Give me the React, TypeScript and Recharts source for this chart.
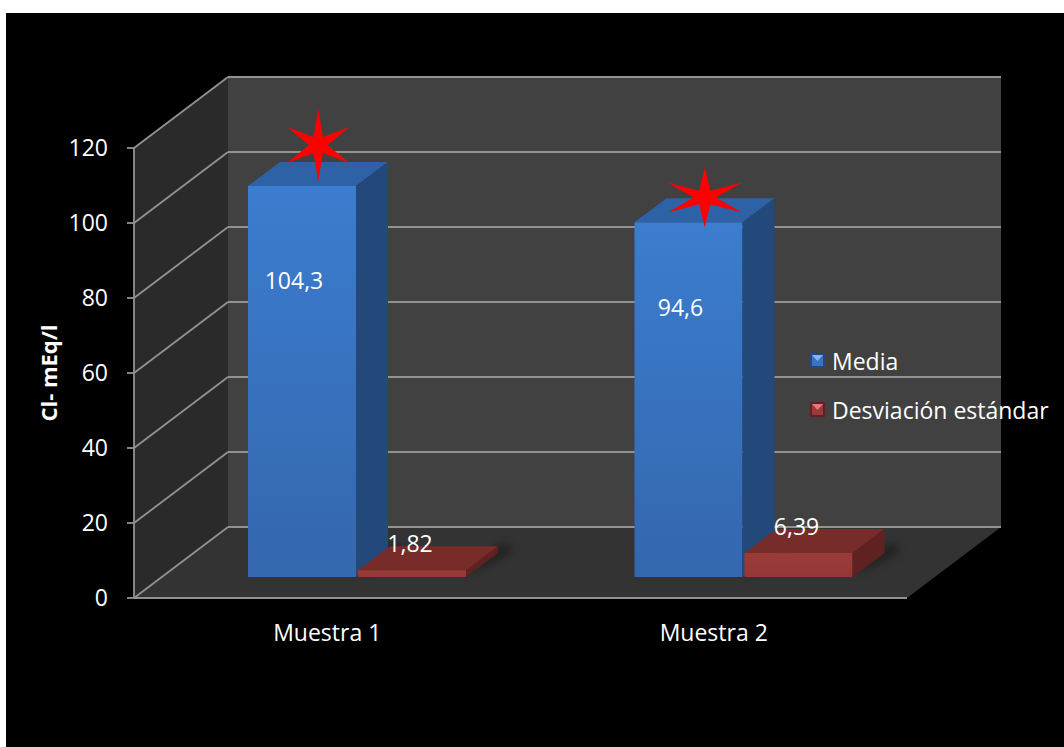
import { BarChart, Bar, XAxis, YAxis, ReferenceArea, ReferenceDot, LabelList, Legend } from 'recharts'

const categories = ['Muestra 1', 'Muestra 2']
const media = [104.3, 94.6]
const desviacion = [1.82, 6.39]
// red star markers above the "Media" bars (y in axis units)
const marcas = [112, 98]
const yTicks = [0, 20, 40, 60, 80, 100, 120]

const data = categories.map((name, i) => ({ name, media: media[i], desviacion: desviacion[i] }))

const FONT = "'Open Sans', sans-serif"
const FS = 23
const GRID = '#929292'
const BAR_SIZE = 108
const BAR_GAP = 2
const DEPTH = { dx: 94, dy: -71 } // walls / floor depth
const SHIFT = { dx: 30, dy: -21 } // bars sit inside the floor
const BOX = { dx: 32, dy: -24 } // depth of each bar
const STAR_SIZE = [{ rx: 36, ry: 36 }, { rx: 43, ry: 30 }]

const COLORS = {
    media: { front: 'url(#mediaFront)', side: '#23487a', top: '#2e62a6' },
    desviacion: { front: 'url(#desvFront)', side: '#5f2220', top: '#782c2a' },
}

const fmt = (v: number) => String(v).replace('.', ',')

function Walls(props: any) {
    const { x, y, width, height } = props
    const L = x, R = x + width, T = y, B = y + height
    const { dx, dy } = DEPTH
    const yOf = (v: number) => B - (v / 120) * height
    return (
        <g>
            <polygon points={`${L + dx},${T + dy} ${R + dx},${T + dy} ${R + dx},${B + dy} ${L + dx},${B + dy}`} fill="#414141" />
            <polygon points={`${L},${T} ${L + dx},${T + dy} ${L + dx},${B + dy} ${L},${B}`} fill="#2a2a2a" />
            <polygon points={`${L},${B} ${R},${B} ${R + dx},${B + dy} ${L + dx},${B + dy}`} fill="#333333" />
            {yTicks.map(t => {
                const yy = yOf(t)
                return (
                    <g key={t}>
                        <line x1={L} y1={yy} x2={L + dx} y2={yy + dy} stroke={GRID} strokeWidth={1.8} />
                        <line x1={L + dx} y1={yy + dy} x2={R + dx} y2={yy + dy} stroke={GRID} strokeWidth={1.8} />
                    </g>
                )
            })}
        </g>
    )
}

function makeBox(c: { front: string; side: string; top: string }) {
    return (p: any) => {
        const { x, y, width: w, height: h } = p
        if (h == null || isNaN(h)) return <g />
        const X = x + SHIFT.dx, Y = y + SHIFT.dy
        const { dx, dy } = BOX
        return (
            <g>
                <polygon
                    points={`${X + w},${Y + h} ${X + w + dx + 14},${Y + h + dy} ${X + w + dx + 14},${Y + h + dy - 8} ${X + w + dx},${Y + h + dy - 8}`}
                    fill="#000" opacity={0.35} filter="url(#soft)" />
                <rect x={X} y={Y} width={w} height={h} fill={c.front} />
                <polygon points={`${X},${Y} ${X + w},${Y} ${X + w + dx},${Y + dy} ${X + dx},${Y + dy}`} fill={c.top} />
                <polygon points={`${X + w},${Y} ${X + w + dx},${Y + dy} ${X + w + dx},${Y + h + dy} ${X + w},${Y + h}`} fill={c.side} />
            </g>
        )
    }
}

function Star({ cx, cy, rx, ry }: { cx: number; cy: number; rx: number; ry: number }) {
    const pts: string[] = []
    for (let k = 0; k < 12; k++) {
        const a = (-90 + k * 30) * Math.PI / 180
        const f = k % 2 === 0 ? 1 : 0.26
        pts.push(`${cx + Math.cos(a) * rx * f},${cy + Math.sin(a) * ry * f}`)
    }
    return <polygon points={pts.join(' ')} fill="#ff0000" />
}

function MediaLabel(p: any) {
    const { x, y, width, height, value } = p
    return (
        <text x={x + SHIFT.dx + width / 2 - 8} y={y + SHIFT.dy + 0.24 * height} textAnchor="middle"
            dominantBaseline="central" fill="#fff" fontSize={FS} fontFamily={FONT}>{fmt(value)}</text>
    )
}

function DesvLabel(p: any) {
    const { x, y, width, value } = p
    return (
        <text x={x + SHIFT.dx + width / 2 - 2} y={y + SHIFT.dy - 27} textAnchor="middle"
            dominantBaseline="central" fill="#fff" fontSize={FS} fontFamily={FONT}>{fmt(value)}</text>
    )
}

function YLabel(p: any) {
    const vb = p.viewBox
    const cx = vb.x + 48, cy = vb.y + vb.height / 2
    return (
        <text x={cx} y={cy} transform={`rotate(-90 ${cx} ${cy})`} textAnchor="middle" dominantBaseline="central"
            fill="#fff" fontSize={22} fontWeight={700} fontFamily={FONT}>Cl- mEq/l</text>
    )
}

function LegendIcon({ light, mid, dark }: { light: string; mid: string; dark: string }) {
    return (
        <svg width={15} height={15} style={{ marginRight: 7, flex: 'none' }}>
            <rect x={0} y={0} width={15} height={15} fill={dark} />
            <rect x={2} y={2} width={11} height={11} fill={mid} />
            <polygon points="2,2 13,2 7.5,8" fill={light} />
        </svg>
    )
}

function LegendBox() {
    const items = [
        { label: 'Media', icon: { light: '#7fb6f2', mid: '#3a74c2', dark: '#23487a' } },
        { label: 'Desviación estándar', icon: { light: '#e07a78', mid: '#9a3a38', dark: '#5f2220' } },
    ]
    return (
        <div style={{ fontFamily: FONT, fontSize: FS, color: '#fff' }}>
            {items.map(it => (
                <div key={it.label} style={{ display: 'flex', alignItems: 'center', height: 49, whiteSpace: 'nowrap' }}>
                    <LegendIcon {...it.icon} />
                    <span>{it.label}</span>
                </div>
            ))}
        </div>
    )
}

export default function App() {
    return (
        <div style={{ position: 'absolute', left: 0, top: 0, width: 1064, height: 747, background: '#fff', overflow: 'hidden' }}>
            <div style={{ position: 'absolute', left: 6, top: 13, right: 0, bottom: 0, background: '#000' }} />
            <div style={{ position: 'absolute', left: 0, top: 0 }}>
                <BarChart width={1064} height={747} data={data} barGap={BAR_GAP}
                    margin={{ top: 148, right: 157, bottom: 119, left: 0 }}>
                    <defs>
                        <linearGradient id="mediaFront" x1="0" y1="0" x2="0" y2="1">
                            <stop offset="0%" stopColor="#3b7dcf" />
                            <stop offset="100%" stopColor="#3467ae" />
                        </linearGradient>
                        <linearGradient id="desvFront" x1="0" y1="0" x2="0" y2="1">
                            <stop offset="0%" stopColor="#9c3c39" />
                            <stop offset="100%" stopColor="#943735" />
                        </linearGradient>
                        <filter id="soft" x="-50%" y="-50%" width="200%" height="200%">
                            <feGaussianBlur stdDeviation="4" />
                        </filter>
                    </defs>
                    <ReferenceArea y1={0} y2={120} shape={(p: any) => <Walls {...p} />} />
                    <XAxis dataKey="name" height={30} tickLine={false} tickSize={0} tickMargin={27}
                        axisLine={{ stroke: GRID, strokeWidth: 2 }}
                        tick={{ fill: '#fff', fontSize: FS, fontFamily: FONT }} />
                    <YAxis width={134} domain={[0, 120]} ticks={yTicks} tickSize={7} tickMargin={19}
                        axisLine={{ stroke: GRID, strokeWidth: 1.8 }} tickLine={{ stroke: GRID, strokeWidth: 1.8 }}
                        tick={{ fill: '#fff', fontSize: FS, fontFamily: FONT }}
                        label={(p: any) => <YLabel {...p} />} />
                    <Bar dataKey="media" name="Media" barSize={BAR_SIZE} shape={makeBox(COLORS.media)} isAnimationActive={false}>
                        <LabelList dataKey="media" content={(p: any) => <MediaLabel {...p} />} />
                    </Bar>
                    <Bar dataKey="desviacion" name="Desviación estándar" barSize={BAR_SIZE} shape={makeBox(COLORS.desviacion)} isAnimationActive={false}>
                        <LabelList dataKey="desviacion" content={(p: any) => <DesvLabel {...p} />} />
                    </Bar>
                    {categories.map((c, i) => (
                        <ReferenceDot key={c} x={c} y={marcas[i]} r={0} ifOverflow="visible"
                            shape={(p: any) => (
                                <Star cx={p.cx - BAR_SIZE / 2 - BAR_GAP / 2 + SHIFT.dx + BOX.dx / 2}
                                    cy={p.cy + SHIFT.dy + BOX.dy / 2} rx={STAR_SIZE[i].rx} ry={STAR_SIZE[i].ry} />
                            )} />
                    ))}
                    <Legend layout="vertical" align="center" verticalAlign="middle" content={() => <LegendBox />}
                        wrapperStyle={{ left: 810, top: 336, width: 'auto', height: 'auto' }} />
                </BarChart>
            </div>
        </div>
    )
}
